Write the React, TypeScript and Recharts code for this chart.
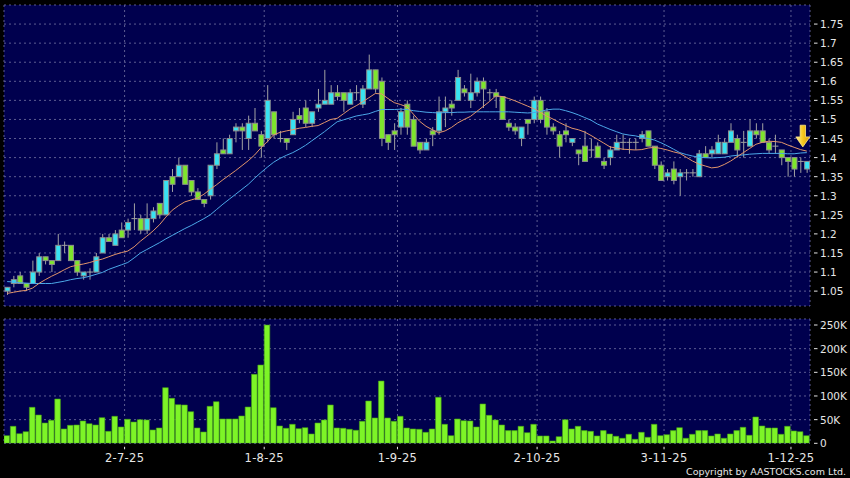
import React from 'react';
import { ComposedChart, Bar, Line, XAxis, YAxis, CartesianGrid, ReferenceDot } from 'recharts';

const OPEN = [
  1.05, 1.07, 1.09, 1.07, 1.07, 1.10, 1.14, 1.13, 1.13, 1.17,
  1.17, 1.13, 1.09, 1.10, 1.10, 1.15, 1.19, 1.17, 1.21, 1.21,
  1.24, 1.24, 1.21, 1.24, 1.28, 1.25, 1.35, 1.35, 1.38, 1.34,
  1.31, 1.29, 1.30, 1.38, 1.42, 1.41, 1.47, 1.48, 1.45, 1.49,
  1.46, 1.45, 1.52, 1.45, 1.45, 1.46, 1.51, 1.53, 1.49, 1.53,
  1.54, 1.54, 1.57, 1.57, 1.54, 1.57, 1.54, 1.58, 1.63, 1.60,
  1.46, 1.47, 1.48, 1.54, 1.50, 1.44, 1.42, 1.47, 1.47, 1.52,
  1.54, 1.55, 1.58, 1.55, 1.57, 1.60, 1.57, 1.57, 1.56, 1.49,
  1.48, 1.45, 1.50, 1.50, 1.55, 1.52, 1.48, 1.46, 1.47, 1.44,
  1.42, 1.43, 1.42, 1.43, 1.39, 1.40, 1.42, 1.44, 1.44, 1.44,
  1.45, 1.47, 1.43, 1.38, 1.35, 1.37, 1.35, 1.36, 1.36, 1.35,
  1.41, 1.41, 1.41, 1.41, 1.44, 1.45, 1.44, 1.43, 1.47, 1.47,
  1.44, 1.43, 1.42, 1.40, 1.40, 1.39, 1.37,
];
const HIGH = [
  1.06, 1.09, 1.10, 1.07, 1.13, 1.15, 1.14, 1.13, 1.20, 1.18,
  1.17, 1.13, 1.10, 1.11, 1.15, 1.20, 1.20, 1.21, 1.23, 1.24,
  1.28, 1.25, 1.28, 1.27, 1.28, 1.34, 1.37, 1.40, 1.38, 1.34,
  1.32, 1.29, 1.38, 1.44, 1.45, 1.46, 1.49, 1.49, 1.51, 1.53,
  1.47, 1.59, 1.52, 1.47, 1.45, 1.52, 1.53, 1.55, 1.52, 1.58,
  1.63, 1.59, 1.59, 1.57, 1.58, 1.59, 1.59, 1.67, 1.63, 1.61,
  1.46, 1.49, 1.53, 1.55, 1.51, 1.44, 1.45, 1.48, 1.56, 1.56,
  1.55, 1.63, 1.59, 1.62, 1.61, 1.61, 1.58, 1.58, 1.56, 1.50,
  1.49, 1.48, 1.50, 1.56, 1.56, 1.53, 1.49, 1.47, 1.49, 1.45,
  1.42, 1.47, 1.45, 1.44, 1.40, 1.43, 1.46, 1.46, 1.45, 1.45,
  1.47, 1.47, 1.43, 1.39, 1.37, 1.39, 1.37, 1.37, 1.37, 1.42,
  1.43, 1.43, 1.46, 1.45, 1.49, 1.46, 1.47, 1.50, 1.49, 1.49,
  1.45, 1.46, 1.42, 1.40, 1.40, 1.40, 1.39,
];
const LOW = [
  1.04, 1.06, 1.07, 1.05, 1.07, 1.09, 1.12, 1.10, 1.13, 1.15,
  1.13, 1.09, 1.08, 1.08, 1.10, 1.15, 1.18, 1.17, 1.19, 1.19,
  1.21, 1.20, 1.20, 1.23, 1.24, 1.25, 1.31, 1.35, 1.33, 1.30,
  1.29, 1.27, 1.29, 1.37, 1.41, 1.41, 1.44, 1.42, 1.42, 1.47,
  1.40, 1.44, 1.45, 1.44, 1.42, 1.46, 1.49, 1.48, 1.48, 1.52,
  1.54, 1.54, 1.55, 1.52, 1.54, 1.55, 1.53, 1.58, 1.57, 1.43,
  1.42, 1.42, 1.46, 1.46, 1.43, 1.41, 1.42, 1.43, 1.46, 1.48,
  1.51, 1.55, 1.56, 1.53, 1.56, 1.53, 1.55, 1.53, 1.50, 1.47,
  1.46, 1.43, 1.46, 1.49, 1.49, 1.46, 1.46, 1.40, 1.44, 1.43,
  1.38, 1.39, 1.40, 1.40, 1.37, 1.38, 1.42, 1.42, 1.41, 1.42,
  1.44, 1.43, 1.37, 1.34, 1.34, 1.33, 1.30, 1.34, 1.35, 1.35,
  1.40, 1.40, 1.41, 1.41, 1.44, 1.40, 1.40, 1.43, 1.45, 1.44,
  1.41, 1.41, 1.38, 1.35, 1.35, 1.36, 1.36,
];
const CLOSE = [
  1.06, 1.08, 1.07, 1.06, 1.10, 1.14, 1.13, 1.12, 1.17, 1.17,
  1.13, 1.10, 1.10, 1.10, 1.14, 1.19, 1.18, 1.20, 1.19, 1.23,
  1.24, 1.21, 1.24, 1.26, 1.25, 1.34, 1.33, 1.38, 1.33, 1.31,
  1.29, 1.28, 1.38, 1.41, 1.41, 1.45, 1.48, 1.47, 1.49, 1.47,
  1.43, 1.55, 1.46, 1.45, 1.44, 1.50, 1.50, 1.49, 1.52, 1.54,
  1.55, 1.57, 1.56, 1.55, 1.57, 1.57, 1.58, 1.63, 1.58, 1.45,
  1.44, 1.46, 1.52, 1.48, 1.43, 1.42, 1.44, 1.46, 1.52, 1.53,
  1.53, 1.61, 1.57, 1.57, 1.60, 1.58, 1.57, 1.56, 1.50, 1.48,
  1.47, 1.48, 1.49, 1.55, 1.50, 1.48, 1.47, 1.43, 1.46, 1.45,
  1.41, 1.39, 1.42, 1.40, 1.38, 1.42, 1.44, 1.44, 1.44, 1.44,
  1.46, 1.43, 1.38, 1.34, 1.36, 1.34, 1.36, 1.36, 1.36, 1.41,
  1.40, 1.42, 1.44, 1.44, 1.47, 1.42, 1.44, 1.47, 1.46, 1.44,
  1.42, 1.43, 1.40, 1.39, 1.37, 1.39, 1.39,
];
const MA_SHORT = [
  1.044, 1.047, 1.050, 1.052, 1.058, 1.070, 1.080, 1.089, 1.097, 1.106,
  1.114, 1.118, 1.121, 1.125, 1.130, 1.134, 1.140, 1.146, 1.151, 1.155,
  1.166, 1.181, 1.194, 1.208, 1.224, 1.244, 1.262, 1.274, 1.284, 1.289,
  1.294, 1.304, 1.317, 1.329, 1.342, 1.354, 1.366, 1.379, 1.392, 1.407,
  1.426, 1.442, 1.460, 1.466, 1.470, 1.473, 1.477, 1.479, 1.482, 1.484,
  1.492, 1.500, 1.503, 1.515, 1.527, 1.536, 1.546, 1.557, 1.568, 1.567,
  1.555, 1.544, 1.539, 1.533, 1.514, 1.495, 1.482, 1.473, 1.465, 1.470,
  1.479, 1.491, 1.500, 1.508, 1.521, 1.534, 1.547, 1.562, 1.560, 1.555,
  1.549, 1.542, 1.535, 1.528, 1.519, 1.509, 1.501, 1.492, 1.484, 1.477,
  1.473, 1.467, 1.458, 1.448, 1.438, 1.428, 1.425, 1.422, 1.421, 1.420,
  1.421, 1.425, 1.427, 1.424, 1.420, 1.415, 1.411, 1.401, 1.391, 1.383,
  1.378, 1.373, 1.375, 1.382, 1.391, 1.402, 1.413, 1.424, 1.435, 1.440,
  1.443, 1.442, 1.440, 1.433, 1.427, 1.421, 1.417,
];
const MA_LONG = [
  1.075, 1.074, 1.072, 1.071, 1.070, 1.070, 1.070, 1.070, 1.073, 1.076,
  1.080, 1.083, 1.085, 1.089, 1.094, 1.099, 1.107, 1.113, 1.119, 1.125,
  1.137, 1.150, 1.159, 1.168, 1.177, 1.187, 1.196, 1.205, 1.214, 1.222,
  1.231, 1.240, 1.250, 1.264, 1.278, 1.291, 1.304, 1.317, 1.330, 1.346,
  1.361, 1.375, 1.388, 1.398, 1.406, 1.413, 1.422, 1.432, 1.444, 1.456,
  1.468, 1.481, 1.494, 1.499, 1.504, 1.509, 1.512, 1.515, 1.521, 1.526,
  1.526, 1.526, 1.527, 1.526, 1.523, 1.521, 1.519, 1.518, 1.517, 1.518,
  1.518, 1.519, 1.519, 1.520, 1.520, 1.520, 1.520, 1.520, 1.520, 1.520,
  1.519, 1.518, 1.517, 1.518, 1.521, 1.525, 1.527, 1.527, 1.523, 1.518,
  1.512, 1.505, 1.498, 1.488, 1.481, 1.474, 1.468, 1.462, 1.459, 1.457,
  1.453, 1.450, 1.446, 1.439, 1.431, 1.422, 1.413, 1.408, 1.404, 1.401,
  1.400, 1.399, 1.400, 1.401, 1.404, 1.406, 1.407, 1.409, 1.410, 1.411,
  1.411, 1.411, 1.411, 1.410, 1.410, 1.412, 1.413,
];
const VOLUME = [
  16200, 35900, 20400, 24600, 76000, 59800, 42900, 48600, 93600, 30300,
  38000, 38700, 47200, 41500, 38700, 54200, 25300, 57000, 34500, 50700,
  45000, 50000, 49300, 28200, 32400, 117600, 95000, 81700, 81000, 66900,
  32400, 23900, 78100, 88000, 51400, 51400, 51400, 57700, 76700, 145700,
  165400, 249900, 75300, 36600, 31700, 40100, 31000, 33100, 19700, 42900,
  49300, 81000, 32400, 31700, 29600, 27500, 46500, 89400, 53500, 131600,
  53500, 46500, 57000, 32400, 30300, 29600, 23200, 30300, 97200, 40100,
  16200, 51400, 47900, 47200, 34500, 83100, 59100, 49300, 38700, 26800,
  26800, 35900, 22500, 40100, 15500, 15500, 4900, 14100, 50000, 30300,
  35900, 26800, 25300, 15500, 26800, 19700, 14800, 10600, 19000, 8400,
  23200, 12700, 40100, 16200, 18300, 26800, 33100, 10600, 19000, 26800,
  26800, 15500, 19700, 10600, 19700, 26800, 33800, 16900, 55600, 36600,
  32400, 32400, 19000, 35900, 26100, 24600, 16200,
];
const MONTH_START_INDEX = [19, 41, 62, 84, 104, 124];
const MONTH_LABELS = ['2-7-25', '1-8-25', '1-9-25', '2-10-25', '3-11-25', '1-12-25'];
const PRICE_TICKS = [1.05, 1.1, 1.15, 1.2, 1.25, 1.3, 1.35, 1.4, 1.45, 1.5, 1.55, 1.6, 1.65, 1.7, 1.75];
const VOLUME_TICKS = [0, 50000, 100000, 150000, 200000, 250000];
const ARROW_MARK = { index: 126, price: 1.428 };

const rows = OPEN.map((open, i) => ({
  i,
  open,
  high: HIGH[i],
  low: LOW[i],
  close: CLOSE[i],
  maShort: MA_SHORT[i],
  maLong: MA_LONG[i],
  volume: VOLUME[i],
}));
const N = rows.length;
const X_DOMAIN: [number, number] = [-0.5, N - 0.5];
const MONTH_TICKS = MONTH_START_INDEX.map((k) => k - 0.5);

const FONT = '"DejaVu Sans", Verdana, sans-serif';
const TEXT = '#e6e6e6';
const PLOT_BG = '#00004e';
const GRID = '#5d5d92';
const UP = '#38e2f2';
const DOWN = '#7ee62c';
const BORDER = '#8e8e8e';
const WICK = '#a2a2a2';

const Candle = (props: any) => {
  const { x, y, width, height, payload } = props;
  if (!payload) return null;
  const { open, close, high, low } = payload;
  const cx = x + width / 2;
  const span = high - low;
  const py = (v: number) => y + ((high - v) / span) * height;
  const yo = py(open);
  const yc = py(close);
  const top = Math.min(yo, yc);
  const bot = Math.max(yo, yc);
  const bw = 5;
  return (
    <g>
      <line x1={cx} x2={cx} y1={y} y2={y + height} stroke={WICK} strokeWidth={1} />
      {bot - top < 0.8 ? (
        <line x1={cx - bw / 2 - 0.5} x2={cx + bw / 2 + 0.5} y1={top} y2={top} stroke={WICK} strokeWidth={1} />
      ) : (
        <rect x={cx - bw / 2} y={top} width={bw} height={bot - top} fill={close > open ? UP : DOWN} stroke={BORDER} strokeWidth={1} />
      )}
    </g>
  );
};

const Arrow = (props: any) => {
  const { cx, cy } = props;
  if (cx == null || cy == null) return null;
  const tx = cx - 4;
  const ty = cy;
  const d = `M ${tx} ${ty} L ${tx - 7} ${ty - 10} L ${tx - 2.7} ${ty - 10} L ${tx - 2.7} ${ty - 21.7} L ${tx + 2.7} ${ty - 21.7} L ${tx + 2.7} ${ty - 10} L ${tx + 7} ${ty - 10} Z`;
  return (
    <g>
      <defs>
        <linearGradient id="arrowGrad" x1="0" y1="0" x2="1" y2="0">
          <stop offset="0" stopColor="#fff1a0" />
          <stop offset="0.5" stopColor="#f6c81e" />
          <stop offset="1" stopColor="#d89a08" />
        </linearGradient>
      </defs>
      <path d={d} fill="url(#arrowGrad)" stroke="#ffe680" strokeWidth={0.8} />
    </g>
  );
};

const PriceTick = (p: any) => {
  const { x, y, payload } = p;
  const v = Number(payload.value);
  const label = String(Number(v.toFixed(2)));
  return (
    <g>
      <line x1={x + 4} x2={x + 7.5} y1={y} y2={y} stroke={TEXT} strokeWidth={1} />
      <text x={x + 10} y={y} fill={TEXT} fontSize={10.5} fontFamily={FONT} dominantBaseline="central">
        {label}
      </text>
    </g>
  );
};

const VolumeTick = (p: any) => {
  const { x, y, payload } = p;
  const v = Number(payload.value);
  const label = v === 0 ? '0' : `${Math.round(v / 1000)}K`;
  return (
    <g>
      <line x1={x + 4} x2={x + 7.5} y1={y} y2={y} stroke={TEXT} strokeWidth={1} />
      <text x={x + 10} y={y} fill={TEXT} fontSize={10.5} fontFamily={FONT} dominantBaseline="central">
        {label}
      </text>
    </g>
  );
};

const DateTick = (p: any) => {
  const { x, y, payload } = p;
  const k = MONTH_TICKS.indexOf(Number(payload.value));
  const label = k >= 0 ? MONTH_LABELS[k] : '';
  return (
    <g>
      <line x1={x} x2={x} y1={y + 3.5} y2={y + 6} stroke={TEXT} strokeWidth={1} />
      <text x={x} y={y + 14.5} fill={TEXT} fontSize={11.5} letterSpacing={0.3} fontFamily={FONT} textAnchor="middle" dominantBaseline="central">
        {label}
      </text>
    </g>
  );
};

export default function App() {
  return (
    <div style={{ position: 'absolute', left: 0, top: 0, width: 850, height: 478, background: '#000', overflow: 'hidden' }}>
      <div style={{ position: 'absolute', left: 0, top: 0 }}>
        <ComposedChart width={850} height={310} data={rows} margin={{ top: 5, right: 0, left: 4, bottom: 4 }}>
          <CartesianGrid fill={PLOT_BG} fillOpacity={1} stroke={GRID} strokeDasharray="2 3" />
          <XAxis type="number" dataKey="i" domain={X_DOMAIN} ticks={MONTH_TICKS} interval={0} allowDataOverflow hide />
          <YAxis
            orientation="right"
            width={40}
            domain={[1.011, 1.8]}
            ticks={PRICE_TICKS}
            interval={0}
            allowDataOverflow
            axisLine={false}
            tickLine={false}
            tickSize={0}
            tickMargin={0}
            tick={PriceTick}
          />
          <Bar dataKey={(d: any) => [d.low, d.high]} shape={Candle} barSize={5} isAnimationActive={false} />
          <Line type="linear" dataKey="maLong" stroke="#4ca8e8" strokeWidth={1} dot={false} activeDot={false} isAnimationActive={false} />
          <Line type="linear" dataKey="maShort" stroke="#e2956b" strokeWidth={1} dot={false} activeDot={false} isAnimationActive={false} />
          <ReferenceDot x={ARROW_MARK.index} y={ARROW_MARK.price} r={0} shape={Arrow} ifOverflow="visible" />
        </ComposedChart>
      </div>
      <div style={{ position: 'absolute', left: 0, top: 310 }}>
        <ComposedChart width={850} height={168} data={rows} margin={{ top: 9, right: 0, left: 4, bottom: 0 }} barCategoryGap={0}>
          <CartesianGrid fill={PLOT_BG} fillOpacity={1} stroke={GRID} strokeDasharray="2 3" />
          <XAxis
            type="number"
            dataKey="i"
            domain={X_DOMAIN}
            ticks={MONTH_TICKS}
            interval={0}
            allowDataOverflow
            height={34.7}
            axisLine={false}
            tickLine={false}
            tickSize={0}
            tickMargin={0}
            tick={DateTick}
          />
          <YAxis
            orientation="right"
            width={40}
            domain={[0, 262700]}
            ticks={VOLUME_TICKS}
            interval={0}
            allowDataOverflow
            axisLine={false}
            tickLine={false}
            tickSize={0}
            tickMargin={0}
            tick={VolumeTick}
          />
          <Bar dataKey="volume" fill="#7df427" stroke="#44a016" strokeWidth={0.6} barSize={5.6} isAnimationActive={false} />
        </ComposedChart>
      </div>
      <div
        style={{
          position: 'absolute',
          left: 0,
          top: 466,
          width: 846,
          textAlign: 'right',
          color: TEXT,
          fontFamily: FONT,
          fontSize: 9.5,
          lineHeight: '12px',
        }}
      >
        Copyright by AASTOCKS.com Ltd.
      </div>
    </div>
  );
}
